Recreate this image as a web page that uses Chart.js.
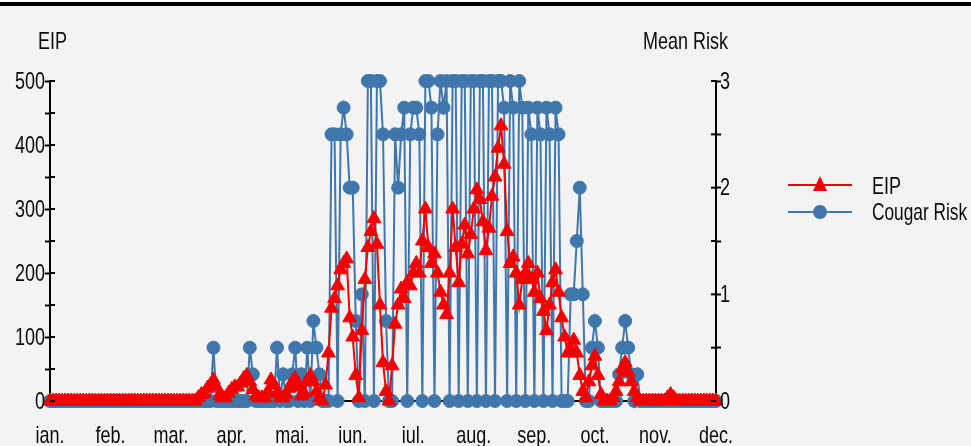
<!DOCTYPE html>
<html>
<head>
<meta charset="utf-8">
<script src="https://cdn.jsdelivr.net/npm/chart.js@4.4.1/dist/chart.umd.min.js"></script>
<style>
  body { margin: 0; background: #fff; }
  #wrap { position: relative; width: 971px; height: 446px; background: #f3f3f3; overflow: hidden;
          font-family: 'Liberation Sans', Arial, sans-serif; color: #0a0a0a; }
  #blanco { position: absolute; left: 0; top: 0; width: 971px; height: 2px; background: #fff; }
  #barra { position: absolute; left: 0; top: 2px; width: 971px; height: 4px; background: #000; }
  canvas { position: absolute; left: 0; top: 0; }
  .txt { position: absolute; font-size: 24px; line-height: 24px; white-space: nowrap;
         transform: scaleX(0.75); transform-origin: left top; }
</style>
</head>
<body>
<div id="wrap">
  <div id="blanco"></div>
  <div id="barra"></div>
  <canvas id="grafico" width="971" height="446"></canvas>
  <div class="txt" style="left:38px; top:29px;">EIP</div>
  <div class="txt" style="left:643px; top:29px;">Mean Risk</div>
  <div class="txt" style="left:872px; top:174px;">EIP</div>
  <div class="txt" style="left:872px; top:200px; transform: scaleX(0.72);">Cougar Risk</div>
</div>
<script>
// Etiquetas de los meses (eje x, cada 20 pasos)
const meses = ["ian.", "feb.", "mar.", "apr.", "mai.", "iun.", "iul.", "aug.", "sep.", "oct.", "nov.", "dec."];

// EIP (eje izquierdo), un valor por paso 0..220
const eip = [
  0, 0, 0, 0, 0, 0, 0, 0, 0, 0,
  0, 0, 0, 0, 0, 0, 0, 0, 0, 0,
  0, 0, 0, 0, 0, 0, 0, 0, 0, 0,
  0, 0, 0, 0, 0, 0, 0, 0, 0, 0,
  0, 0, 0, 0, 0, 0, 0, 0, 0, 5,
  10, 12, 20, 25, 33, 22, 8, 5, 5, 12,
  18, 22, 22, 28, 35, 40, 30, 18, 8, 5,
  5, 5, 15, 33, 25, 12, 5, 5, 10, 20,
  30, 35, 22, 8, 12, 30, 40, 30, 15, 5,
  0, 25, 75, 145, 160, 180, 205, 215, 222, 130,
  100, 40, 5, 110, 190, 240, 265, 285, 245, 150,
  60, 15, 0, 55, 120, 150, 175, 160, 185, 180,
  200, 215, 200, 250, 300, 240, 215, 230, 200, 170,
  150, 135, 200, 300, 240, 185, 245, 275, 230, 260,
  300, 330, 315, 280, 235, 270, 320, 350, 395, 430,
  370, 265, 215, 225, 200, 150, 190, 200, 215, 190,
  170, 200, 160, 140, 110, 150, 185, 205, 170, 130,
  100, 75, 80, 95, 75, 40, 15, 5, 30, 55,
  70, 40, 10, 0, 0, 0, 5, 15, 30, 50,
  60, 45, 30, 15, 5, 0, 0, 0, 0, 0,
  0, 0, 0, 0, 5, 10, 5, 0, 0, 0,
  0, 0, 0, 0, 0, 0, 0, 0, 0, 0,
  0
];

// Cougar Risk (eje derecho, Mean Risk)
const riesgo = [
  0, 0, 0, 0, 0, 0, 0, 0, 0, 0,
  0, 0, 0, 0, 0, 0, 0, 0, 0, 0,
  0, 0, 0, 0, 0, 0, 0, 0, 0, 0,
  0, 0, 0, 0, 0, 0, 0, 0, 0, 0,
  0, 0, 0, 0, 0, 0, 0, 0, 0, 0,
  0, 0, 0, 0, 0.5, 0, 0, 0, 0, 0,
  0, 0, 0, 0, 0, 0, 0.5, 0.25, 0, 0,
  0, 0, 0, 0, 0, 0.5, 0, 0.25, 0, 0,
  0.25, 0.5, 0, 0.25, 0, 0.5, 0, 0.75, 0.5, 0.25,
  0, 0, 0, 2.5, 2.5, 0, 2.5, 2.75, 2.5, 2,
  2, 0.75, 0, 1, 0, 3, 3, 0, 3, 3,
  2.5, 0.75, 0, 0, 2.5, 2, 2.5, 2.75, 0, 2.5,
  2.75, 2.75, 2.5, 0, 3, 3, 2.75, 0, 2.5, 3,
  2.75, 3, 0, 3, 3, 0, 3, 3, 0, 3,
  3, 0, 3, 3, 0, 3, 3, 0, 3, 3,
  2.75, 0, 3, 2.75, 0, 3, 2.75, 0, 2.75, 2.5,
  0, 2.75, 2.5, 0, 2.75, 2.5, 0, 2.75, 2.5, 0,
  0, 0, 1, 1, 1.5, 2, 1, 0, 0, 0.5,
  0.75, 0.5, 0, 0, 0, 0, 0, 0, 0.25, 0.5,
  0.75, 0.5, 0.25, 0, 0.25, 0, 0, 0, 0, 0,
  0, 0, 0, 0, 0, 0, 0, 0, 0, 0,
  0, 0, 0, 0, 0, 0, 0, 0, 0, 0,
  0
];

const rojo = '#f50000';
const azul = '#3f77ac';

// texto estrecho (la fuente original es condensada)
function texto(ctx, str, x, y, align, base) {
  ctx.save();
  ctx.translate(x, y);
  ctx.scale(0.75, 1);
  ctx.textAlign = align;
  ctx.textBaseline = base;
  ctx.fillText(str, 0, 0);
  ctx.restore();
}

// Etiquetas de los ejes y marcas que cruzan el eje
const etiquetas = {
  id: 'etiquetas',
  afterDraw(chart) {
    const ctx = chart.ctx;
    const sx = chart.scales.x, sy = chart.scales.y, sy1 = chart.scales.y1;
    ctx.save();
    ctx.font = "24px 'Liberation Sans', Arial, sans-serif";
    ctx.fillStyle = '#0a0a0a';
    sx.ticks.forEach(t => {
      texto(ctx, meses[Math.round(t.value / 20)], sx.getPixelForValue(t.value), 443, 'center', 'alphabetic');
    });
    ctx.strokeStyle = '#000';
    ctx.lineWidth = 2;
    sy.ticks.forEach(t => {
      const py = sy.getPixelForValue(t.value);
      ctx.beginPath(); ctx.moveTo(sy.right, py); ctx.lineTo(sy.right + 5, py); ctx.stroke();
      if (t.value % 100 === 0) texto(ctx, String(t.value), sy.right - 5, py + 1, 'right', 'middle');
    });
    sy1.ticks.forEach(t => {
      const py = sy1.getPixelForValue(t.value);
      ctx.beginPath(); ctx.moveTo(sy1.left - 5, py); ctx.lineTo(sy1.left, py); ctx.stroke();
      if (Number.isInteger(t.value)) texto(ctx, String(t.value), sy1.left + 4, py + 1, 'left', 'middle');
    });
    ctx.restore();
  }
};

// Leyenda a mano (linea + marcador)
const leyenda = {
  id: 'leyenda',
  afterDraw(chart) {
    const ctx = chart.ctx;
    ctx.save();
    ctx.lineWidth = 2;
    ctx.strokeStyle = rojo;
    ctx.beginPath(); ctx.moveTo(788, 185); ctx.lineTo(852, 185); ctx.stroke();
    ctx.fillStyle = rojo;
    ctx.beginPath(); ctx.moveTo(820, 176); ctx.lineTo(827, 191); ctx.lineTo(813, 191); ctx.closePath(); ctx.fill();
    ctx.strokeStyle = azul;
    ctx.beginPath(); ctx.moveTo(788, 212); ctx.lineTo(852, 212); ctx.stroke();
    ctx.fillStyle = azul;
    ctx.beginPath(); ctx.arc(820, 212, 7, 0, Math.PI * 2); ctx.fill();
    ctx.restore();
  }
};

new Chart(document.getElementById('grafico'), {
  type: 'line',
  data: {
    datasets: [{
      label: 'EIP',
      data: eip.map((v, i) => ({ x: i, y: v })),
      yAxisID: 'y',
      borderColor: rojo,
      backgroundColor: rojo,
      borderWidth: 2,
      pointStyle: 'triangle',
      pointRadius: 8,
      pointBorderWidth: 1,
      clip: false
    }, {
      label: 'Cougar Risk',
      data: riesgo.map((v, i) => ({ x: i, y: v })),
      yAxisID: 'y1',
      borderColor: azul,
      backgroundColor: azul,
      borderWidth: 2,
      pointStyle: 'circle',
      pointRadius: 6.5,
      pointBorderWidth: 1,
      clip: false
    }]
  },
  options: {
    responsive: false,
    animation: false,
    layout: { padding: { top: 81, right: 215, bottom: 0, left: 0 } },
    plugins: { legend: { display: false }, tooltip: { enabled: false } },
    scales: {
      x: {
        type: 'linear',
        min: 0,
        max: 220,
        border: { display: true, color: '#000', width: 2 },
        grid: { display: false, drawTicks: false },
        ticks: { stepSize: 20, autoSkip: false, display: false },
        afterFit: function(scale) { scale.height = 45; }
      },
      y: {
        position: 'left',
        min: 0,
        max: 500,
        border: { color: '#000', width: 2 },
        grid: { drawOnChartArea: false, color: '#000', tickLength: 5, tickWidth: 2 },
        ticks: { stepSize: 50, display: false },
        afterFit: function(scale) { scale.width = 50; }
      },
      y1: {
        position: 'right',
        min: 0,
        max: 3,
        border: { color: '#000', width: 2 },
        grid: { drawOnChartArea: false, color: '#000', tickLength: 5, tickWidth: 2 },
        ticks: { stepSize: 0.5, display: false },
        afterFit: function(scale) { scale.width = 40; }
      }
    }
  },
  plugins: [etiquetas, leyenda]
});
</script>
</body>
</html>
